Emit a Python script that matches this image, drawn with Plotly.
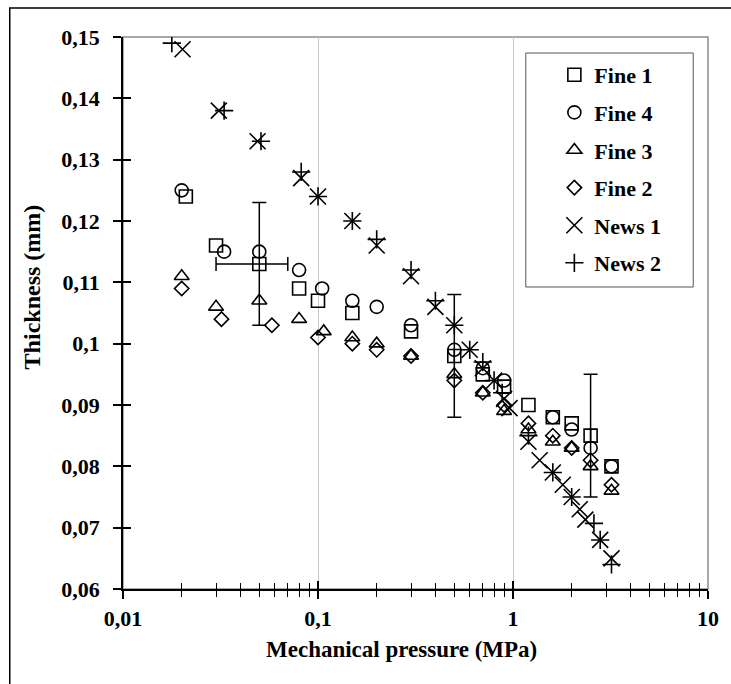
import plotly.graph_objects as go

# ---------------- data ----------------
fine1_x = [0.021, 0.03, 0.05, 0.08, 0.1, 0.15, 0.3, 0.5, 0.7, 0.9, 1.2, 1.6, 2.0, 2.5, 3.2]
fine1_y = [0.124, 0.116, 0.113, 0.109, 0.107, 0.105, 0.102, 0.098, 0.095, 0.093, 0.090, 0.088, 0.087, 0.085, 0.080]

fine4_x = [0.02, 0.033, 0.05, 0.08, 0.105, 0.15, 0.2, 0.3, 0.5, 0.7, 0.9, 1.6, 2.0, 2.5, 3.2]
fine4_y = [0.125, 0.115, 0.115, 0.112, 0.109, 0.107, 0.106, 0.103, 0.099, 0.096, 0.094, 0.088, 0.086, 0.083, 0.080]

fine3_x = [0.02, 0.03, 0.05, 0.08, 0.107, 0.15, 0.2, 0.3, 0.5, 0.7, 0.9, 1.2, 1.6, 2.0, 2.5, 3.2]
fine3_y = [0.111, 0.106, 0.107, 0.104, 0.102, 0.101, 0.100, 0.098, 0.095, 0.092, 0.089, 0.086, 0.084, 0.083, 0.080, 0.076]

fine2_x = [0.02, 0.032, 0.058, 0.1, 0.15, 0.2, 0.3, 0.5, 0.7, 0.9, 1.2, 1.6, 2.0, 2.5, 3.2]
fine2_y = [0.109, 0.104, 0.103, 0.101, 0.100, 0.099, 0.098, 0.094, 0.092, 0.090, 0.087, 0.085, 0.083, 0.081, 0.077]

news1_x = [0.0202, 0.031, 0.049, 0.082, 0.1, 0.15, 0.2, 0.3, 0.4, 0.5, 0.6, 0.7, 0.8, 0.9, 0.96, 1.2, 1.37, 1.6, 1.8, 2.0, 2.2, 2.35, 2.8, 3.2]
news1_y = [0.148, 0.138, 0.133, 0.127, 0.124, 0.120, 0.116, 0.111, 0.106, 0.103, 0.099, 0.096, 0.094, 0.091, 0.0895, 0.084, 0.081, 0.079, 0.077, 0.075, 0.073, 0.0713, 0.068, 0.065]

news2_x = [0.0178, 0.033, 0.051, 0.082, 0.1, 0.15, 0.2, 0.3, 0.4, 0.5, 0.6, 0.7, 0.8, 0.88, 1.2, 1.6, 2.0, 2.6, 2.8, 3.2]
news2_y = [0.149, 0.138, 0.133, 0.128, 0.124, 0.120, 0.117, 0.112, 0.107, 0.103, 0.099, 0.097, 0.094, 0.092, 0.085, 0.079, 0.075, 0.0707, 0.068, 0.064]

# error bars (Fine 1)
err_x = [0.05, 0.5, 2.5]
err_y = [0.113, 0.098, 0.085]
err_dy = [0.01, 0.01, 0.01]
err_dx = [0.02, 0.0, 0.0]

x_tickvals = [0.01, 0.1, 1, 10]
x_ticktext = ["0,01", "0,1", "1", "10"]
x_minor = [k * 10.0 ** e for e in (-2, -1, 0) for k in range(2, 10)]
y_tickvals = [0.06, 0.07, 0.08, 0.09, 0.10, 0.11, 0.12, 0.13, 0.14, 0.15]
y_ticktext = ["0,06", "0,07", "0,08", "0,09", "0,1", "0,11", "0,12", "0,13", "0,14", "0,15"]

FONT = "Liberation Serif"

# ---------------- geometry (pixels) ----------------
W, H = 731, 684
L, R, T, B = 123, 717, 37, 589
def px(xp):
    return (xp - L) / (R - L)
def py(yp):
    return (B - yp) / (B - T)

fig = go.Figure()

fig.add_trace(go.Scatter(
    x=err_x, y=err_y, mode="markers", showlegend=False, hoverinfo="skip",
    marker=dict(size=1, opacity=0),
    error_y=dict(type="data", array=err_dy, color="black", thickness=1.5, width=7),
    error_x=dict(type="data", array=err_dx, color="black", thickness=1.5, width=7),
))

series = [
    ("Fine 1", fine1_x, fine1_y, "square-open", 13),
    ("Fine 4", fine4_x, fine4_y, "circle-open", 13),
    ("Fine 3", fine3_x, fine3_y, "triangle-up-open", 13),
    ("Fine 2", fine2_x, fine2_y, "diamond-open", 11),
    ("News 1", news1_x, news1_y, "x-thin-open", 16),
    ("News 2", news2_x, news2_y, "cross-thin-open", 13),
]
for name, xs, ys, sym, sz in series:
    fig.add_trace(go.Scatter(
        x=xs, y=ys, mode="markers", name=name, legendgroup=name,
        marker=dict(symbol=sym, size=sz, color="black",
                    line=dict(color="black", width=1.6)),
    ))

# dummy trace for the overlay axes (inside ticks)
fig.add_trace(go.Scatter(x=[], y=[], xaxis="x2", yaxis="y2", showlegend=False))

tickfont = dict(family=FONT, size=22, color="black", weight="bold")

fig.update_layout(
    width=W, height=H,
    margin=dict(l=L, r=W - R, t=T, b=H - B),
    paper_bgcolor="white", plot_bgcolor="white",
    showlegend=True,
    xaxis=dict(
        type="log", range=[-2, 1], tickvals=x_tickvals, ticktext=x_ticktext,
        ticks="outside", ticklen=8, tickwidth=1.5, tickcolor="black",
        showline=True, linecolor="black", linewidth=1.5,
        showgrid=True, gridcolor="#c8c8c8", gridwidth=1, zeroline=False,
        minor=dict(tickvals=x_minor, ticks="outside", ticklen=6, tickwidth=1,
                   tickcolor="black", showgrid=False),
        tickfont=tickfont, ticklabelstandoff=1,
    ),
    yaxis=dict(
        range=[0.06, 0.15], tickvals=y_tickvals, ticktext=y_ticktext,
        ticks="outside", ticklen=8, tickwidth=1.5, tickcolor="black",
        showline=True, linecolor="black", linewidth=1.5,
        showgrid=False, zeroline=False, tickfont=tickfont,
        ticklabelstandoff=9,
    ),
    xaxis2=dict(
        type="log", range=[-2, 1], overlaying="x", anchor="y2", side="bottom",
        tickvals=x_tickvals, showticklabels=False,
        ticks="inside", ticklen=8, tickwidth=1.5, tickcolor="black",
        minor=dict(tickvals=x_minor, ticks="inside", ticklen=6, tickwidth=1,
                   tickcolor="black", showgrid=False),
        showgrid=False, showline=False, zeroline=False,
    ),
    yaxis2=dict(
        range=[0.06, 0.15], overlaying="y", anchor="x2", side="left",
        tickvals=y_tickvals, showticklabels=False,
        ticks="inside", ticklen=8, tickwidth=1.5, tickcolor="black",
        showgrid=False, showline=False, zeroline=False,
    ),
    legend=dict(
        x=px(561), y=py(54), xanchor="left", yanchor="top",
        bgcolor="rgba(0,0,0,0)", borderwidth=0,
        font=dict(family=FONT, size=22, color="black", weight="bold"),
        tracegroupgap=6,
    ),
    shapes=[
        # plot-area frame (gray)
        dict(type="rect", xref="paper", yref="paper", x0=0, x1=1, y0=0, y1=1,
             line=dict(color="#8a8a8a", width=1.5), layer="below"),
        # legend box
        dict(type="rect", xref="paper", yref="paper", x0=px(532), x1=px(702),
             y0=py(287), y1=py(53), line=dict(color="#555555", width=1),
             fillcolor="white", layer="below"),
        # outer chart frame
        dict(type="rect", xref="paper", yref="paper", x0=px(8), x1=px(760),
             y0=py(720), y1=py(8), line=dict(color="black", width=1.5)),
    ],
    annotations=[
        dict(text="Mechanical pressure (MPa)", xref="paper", yref="paper",
             x=px(406), y=py(649), xanchor="center", yanchor="middle",
             showarrow=False, font=dict(family=FONT, size=23, color="black", weight="bold")),
        dict(text="Thickness (mm)", xref="paper", yref="paper", textangle=-90,
             x=px(31), y=py(287), xanchor="center", yanchor="middle",
             showarrow=False, font=dict(family=FONT, size=24, color="black", weight="bold")),
    ],
)

fig.write_html("out.html")
